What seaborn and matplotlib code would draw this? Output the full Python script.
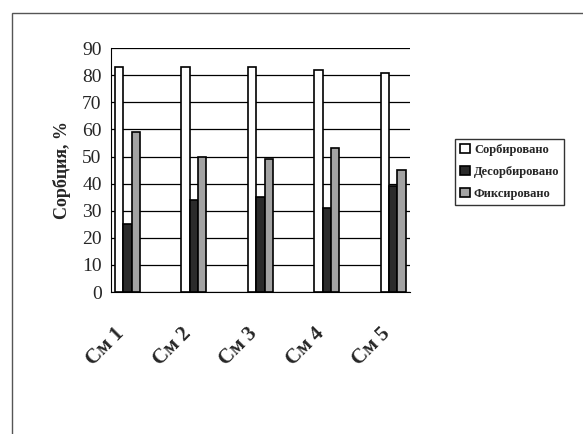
import pandas as pd
import seaborn as sns
import matplotlib.pyplot as plt
import matplotlib.transforms as mtransforms
from matplotlib.patches import Rectangle

samples = ["См 1", "См 2", "См 3", "См 4", "См 5"]
sorbed = [83, 83, 83, 82, 81]
desorbed = [25, 34, 35, 31, 39]
fixed = [59, 50, 49, 53, 45]
series = ["Сорбировано", "Десорбировано", "Фиксировано"]

# Excel-style axis: empty slots between the samples
order = []
for i, s in enumerate(samples):
    order.append(s)
    if i < len(samples) - 1:
        order.append(" " * (i + 1))

df = pd.DataFrame({
    "sample": samples * 3,
    "value": sorbed + desorbed + fixed,
    "series": [series[0]] * 5 + [series[1]] * 5 + [series[2]] * 5,
})

sns.set_style("white")
plt.rcParams["font.family"] = ["Liberation Serif", "DejaVu Serif"]

fig = plt.figure(figsize=(5.83, 4.34), dpi=100)
ax = fig.add_axes([0.190, 0.327, 0.513, 0.562])

sns.barplot(
    data=df, x="sample", y="value", hue="series",
    order=order, hue_order=series,
    palette=["white", "#2b2b2b", "#a3a3a3"],
    edgecolor="black", linewidth=1.2, width=0.76, ax=ax,
)

ax.set_ylim(0, 90)
ax.set_xlim(-0.5, len(order) - 0.5)
ax.set_yticks(range(0, 91, 10))
ax.yaxis.grid(True, color="black", linewidth=0.9)
ax.set_axisbelow(True)
for side in ["top", "right"]:
    ax.spines[side].set_visible(False)
ax.spines["left"].set_color("black")
ax.spines["bottom"].set_color("black")

ax.tick_params(axis="y", labelsize=14, direction="out", length=3, color="black")
ax.tick_params(axis="x", which="major", length=0, pad=16)
ax.set_xticks(range(len(order)))
ax.set_xticklabels(order, rotation=45, ha="right", rotation_mode="anchor",
                   fontsize=15, fontweight="bold")
shift = mtransforms.ScaledTranslation(-0.13, -0.09, fig.dpi_scale_trans)
for lbl in ax.get_xticklabels():
    lbl.set_transform(lbl.get_transform() + shift)
ax.set_xticks([i - 0.5 for i in range(len(order) + 1)], minor=True)
ax.tick_params(axis="x", which="minor", direction="out", length=4, color="black")

ax.set_xlabel("")
ax.set_ylabel("Сорбция, %", fontsize=13, fontweight="bold", labelpad=8)

handles, labels = ax.get_legend_handles_labels()
ax.legend(handles, labels, loc="upper left", bbox_to_anchor=(0.770, 0.695),
          bbox_transform=fig.transFigure, frameon=True, fancybox=False,
          edgecolor="black", prop={"size": 9, "weight": "bold"},
          handlelength=0.8, handleheight=0.8, handletextpad=0.3,
          labelspacing=0.8, borderpad=0.4)

fig.patches.append(Rectangle((12 / 583, -0.1), 1.2, 1 - 13 / 434 + 0.1,
                             transform=fig.transFigure, fill=False,
                             edgecolor="#555555", linewidth=1.0))

fig.savefig("out.png", dpi=100)
